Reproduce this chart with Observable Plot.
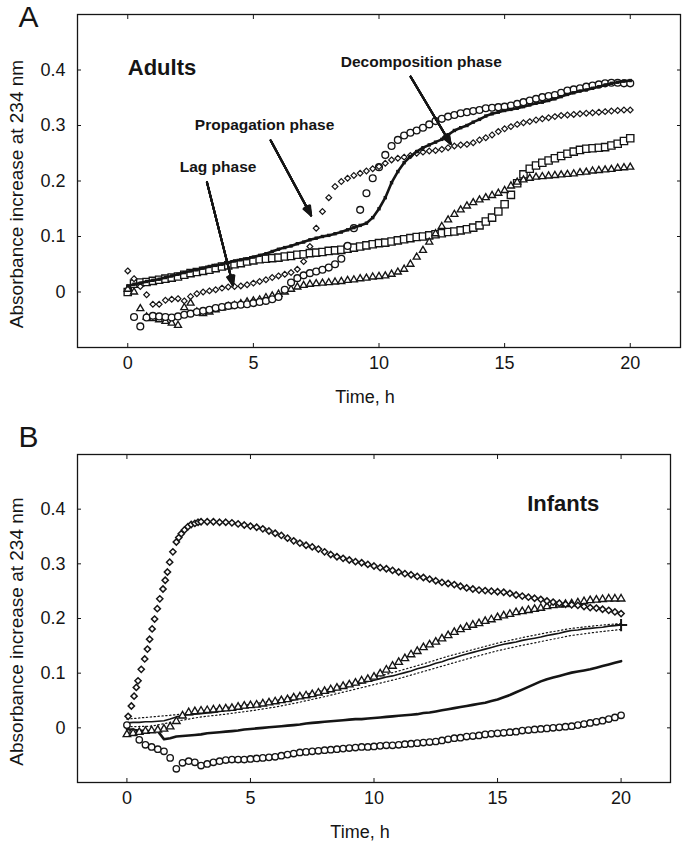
<!DOCTYPE html>
<html>
<head>
<meta charset="utf-8">
<script src="https://cdn.jsdelivr.net/npm/d3@7"></script>
<script src="https://cdn.jsdelivr.net/npm/@observablehq/plot@0.6"></script>
<style>
html, body { margin: 0; padding: 0; background: #fff; }
#chart svg { display: block; }
</style>
</head>
<body>
<div id="chart"></div>
<script>
// ---------- shared axes / labels ----------
const xTicks = [0, 5, 10, 15, 20];
const yTicks = [0, 0.1, 0.2, 0.3, 0.4];
const xLabel = "Time, h";
const yLabel = "Absorbance increase at 234 nm";
const panelLetters = ["A", "B"];
const groupLabels = ["Adults", "Infants"];
const groupX = [0, 16.2];
const groupY = [0.404, 0.41];

// sampling times (h)
const T = [0,0.25,0.5,0.75,1,1.25,1.5,1.75,2,2.25,2.5,2.75,3,3.25,3.5,3.75,4,4.25,4.5,4.75,
  5,5.25,5.5,5.75,6,6.25,6.5,6.75,7,7.25,7.5,7.75,8,8.25,8.5,8.75,9,9.25,9.5,9.75,
  10,10.25,10.5,10.75,11,11.25,11.5,11.75,12,12.25,12.5,12.75,13,13.25,13.5,13.75,14,14.25,14.5,14.75,
  15,15.25,15.5,15.75,16,16.25,16.5,16.75,17,17.25,17.5,17.75,18,18.25,18.5,18.75,19,19.25,19.5,19.75,20];
const T1 = [0,1,2,3,4,5,6,7,8,9,10,11,12,13,14,15,16,17,18,19,20];

// ---------- Panel A: adults ----------
const adultSquares = [0,0.015,0.017,0.018,0.02,0.022,0.024,0.026,0.028,0.031,
  0.034,0.036,0.038,0.04,0.043,0.046,0.048,0.05,0.052,0.055,
  0.057,0.059,0.06,0.061,0.062,0.064,0.065,0.067,0.068,0.07,
  0.071,0.072,0.074,0.075,0.076,0.078,0.08,0.082,0.084,0.086,
  0.088,0.089,0.091,0.093,0.095,0.097,0.099,0.1,0.102,0.104,
  0.106,0.108,0.109,0.111,0.113,0.116,0.12,0.127,0.134,0.145,
  0.158,0.175,0.196,0.212,0.222,0.228,0.233,0.237,0.241,0.245,
  0.249,0.253,0.256,0.258,0.259,0.26,0.261,0.264,0.267,0.272,
  0.277];
const adultFilled = [0.011,0.014,0.016,0.019,0.021,0.023,0.026,0.029,0.032,0.035,
  0.038,0.04,0.043,0.046,0.048,0.05,0.053,0.056,0.058,0.06,
  0.063,0.066,0.069,0.073,0.077,0.08,0.083,0.087,0.09,0.094,
  0.097,0.1,0.102,0.105,0.108,0.112,0.116,0.12,0.124,0.134,
  0.15,0.17,0.197,0.217,0.233,0.244,0.253,0.26,0.265,0.27,
  0.275,0.283,0.291,0.296,0.3,0.306,0.311,0.317,0.321,0.324,
  0.327,0.329,0.331,0.334,0.337,0.34,0.342,0.345,0.348,0.352,
  0.356,0.359,0.362,0.364,0.367,0.37,0.373,0.376,0.378,0.38,
  0.381];
const adultDiamonds = [0.038,0.024,0.01,-0.005,-0.022,-0.022,-0.015,-0.013,-0.012,-0.016,
  -0.008,-0.003,0,0.002,0.004,0.007,0.009,0.01,0.011,0.013,
  0.016,0.019,0.022,0.026,0.029,0.032,0.035,0.041,0.055,0.082,
  0.115,0.145,0.17,0.19,0.199,0.205,0.21,0.214,0.218,0.222,
  0.226,0.232,0.238,0.241,0.243,0.246,0.25,0.252,0.254,0.255,
  0.257,0.26,0.263,0.265,0.266,0.269,0.274,0.278,0.283,0.289,
  0.294,0.298,0.302,0.305,0.307,0.31,0.312,0.314,0.316,0.318,
  0.319,0.32,0.321,0.322,0.323,0.324,0.325,0.326,0.327,0.328,
  0.328];
const adultCircles = [null,-0.045,-0.062,-0.046,-0.043,-0.044,-0.045,-0.046,-0.044,-0.041,
  -0.039,-0.036,-0.034,-0.032,-0.029,-0.027,-0.025,-0.024,-0.023,-0.022,
  -0.02,-0.018,-0.016,-0.013,-0.009,0.004,0.017,0.025,0.03,0.034,
  0.037,0.04,0.044,0.05,0.06,0.083,0.115,0.148,0.178,0.205,
  0.225,0.247,0.263,0.274,0.282,0.287,0.291,0.296,0.302,0.308,
  0.312,0.316,0.319,0.322,0.324,0.326,0.328,0.331,0.332,0.333,
  0.334,0.336,0.339,0.342,0.345,0.348,0.351,0.353,0.355,0.359,
  0.363,0.365,0.367,0.37,0.372,0.374,0.376,0.377,0.377,0.376,
  0.376];
const adultTriangles = [0.005,0,-0.03,-0.045,-0.048,-0.05,-0.053,-0.056,-0.06,-0.028,
  -0.02,-0.036,-0.039,-0.036,-0.032,-0.029,-0.026,-0.024,-0.021,-0.018,
  -0.016,-0.014,-0.01,-0.007,-0.004,0,0.005,0.009,0.012,0.014,
  0.015,0.016,0.017,0.018,0.019,0.021,0.022,0.024,0.025,0.027,
  0.028,0.029,0.032,0.036,0.041,0.05,0.063,0.075,0.09,0.105,
  0.118,0.13,0.14,0.148,0.155,0.161,0.166,0.17,0.174,0.178,
  0.183,0.191,0.198,0.202,0.205,0.207,0.208,0.209,0.21,0.211,
  0.212,0.213,0.215,0.216,0.218,0.219,0.22,0.221,0.223,0.224,
  0.225];

// annotations (data units)
const phaseLabels = ["Lag phase", "Propagation phase", "Decomposition phase"];
const phaseLabelX = [2.07, 2.67, 8.48];
const phaseLabelY = [0.225, 0.300, 0.415];
const arrowFromX = [3.15, 5.69, 11.26];
const arrowFromY = [0.198, 0.273, 0.388];
const arrowToX = [4.19, 7.30, 12.85];
const arrowToY = [0.012, 0.138, 0.267];

// ---------- Panel B: infants ----------
const infantDiamondTimes = [0.05,0.18,0.29,0.38,0.45,0.58,0.72,0.83,0.92,1.02,1.12,1.23,1.33,1.46,
  1.55,1.64,1.73,1.86,2.0,2.1,2.2,2.33,2.47,2.6,2.75,2.88,3.0].concat(T.slice(13));
const infantDiamonds = [0.021,0.04,0.058,0.074,0.086,0.107,0.126,0.144,0.162,0.181,0.199,0.218,0.236,0.254,
  0.27,0.285,0.303,0.322,0.34,0.348,0.355,0.362,0.368,0.372,0.374,0.376,0.377,
  0.377,0.377,0.376,
  0.376,0.375,0.373,0.371,0.369,0.367,0.364,0.36,0.356,0.352,0.347,0.342,0.338,0.334,0.331,0.327,
  0.322,0.317,0.313,0.31,0.307,0.304,0.302,0.299,0.296,0.293,0.291,0.288,0.285,0.282,0.28,0.277,
  0.275,0.272,0.269,0.266,0.264,0.262,0.259,0.256,0.254,0.252,0.251,0.25,0.249,0.248,0.246,0.243,
  0.241,0.239,0.237,0.235,0.232,0.23,0.228,0.226,0.225,0.224,0.222,0.22,0.219,0.217,0.215,0.212,
  0.209];
const infantTriangles = [-0.012,-0.01,-0.008,-0.006,-0.005,-0.004,-0.002,0.002,0.012,0.022,
  0.028,0.03,0.031,0.032,0.033,0.034,0.035,0.036,0.038,0.04,
  0.041,0.042,0.044,0.046,0.048,0.05,0.052,0.055,0.057,0.059,
  0.061,0.064,0.067,0.07,0.073,0.076,0.079,0.082,0.086,0.089,
  0.093,0.099,0.106,0.113,0.12,0.127,0.134,0.14,0.147,0.152,
  0.157,0.163,0.169,0.175,0.18,0.184,0.188,0.191,0.195,0.198,
  0.202,0.205,0.208,0.211,0.213,0.215,0.217,0.219,0.222,0.224,
  0.225,0.226,0.227,0.229,0.231,0.233,0.234,0.235,0.236,0.236,
  0.236];
const infantPlus = [0.009,0.01,0.01,0.011,0.011,0.012,0.013,0.016,0.02,0.023,
  0.024,0.025,0.026,0.027,0.028,0.03,0.032,0.033,0.035,0.037,
  0.038,0.04,0.042,0.044,0.045,0.047,0.049,0.051,0.054,0.056,
  0.058,0.061,0.064,0.067,0.07,0.073,0.076,0.079,0.082,0.085,
  0.087,0.09,0.093,0.095,0.098,0.101,0.104,0.108,0.111,0.114,
  0.118,0.121,0.125,0.128,0.132,0.135,0.138,0.141,0.144,0.147,
  0.15,0.153,0.155,0.157,0.16,0.162,0.164,0.166,0.169,0.171,
  0.173,0.176,0.178,0.179,0.181,0.182,0.183,0.184,0.186,0.187,
  0.188];
const infantPlusHi = [0.016,0.02,0.024,0.031,0.037,0.043,0.05,0.059,0.069,0.081,0.092,
  0.104,0.117,0.131,0.143,0.155,0.165,0.174,0.182,0.187,0.191];
const infantPlusLo = [0.002,0.003,0.012,0.02,0.025,0.031,0.038,0.047,0.057,0.068,0.079,
  0.09,0.103,0.116,0.129,0.141,0.151,0.16,0.169,0.175,0.18];
const infantFilled = [-0.002,-0.004,-0.005,-0.006,-0.006,-0.006,-0.021,-0.019,-0.016,-0.015,
  -0.014,-0.013,-0.012,-0.01,-0.009,-0.008,-0.007,-0.006,-0.005,-0.003,
  -0.002,-0.001,0,0.001,0.002,0.003,0.004,0.005,0.006,0.008,
  0.009,0.01,0.011,0.012,0.013,0.014,0.015,0.016,0.016,0.017,
  0.018,0.019,0.02,0.021,0.022,0.023,0.024,0.025,0.027,0.028,
  0.03,0.032,0.034,0.036,0.038,0.04,0.042,0.044,0.046,0.049,
  0.052,0.056,0.06,0.065,0.07,0.075,0.08,0.085,0.089,0.092,
  0.095,0.098,0.101,0.103,0.105,0.107,0.11,0.113,0.116,0.119,
  0.122];
const infantCircles = [0.005,-0.008,-0.022,-0.031,-0.035,-0.039,-0.043,-0.055,-0.075,-0.064,
  -0.061,-0.063,-0.069,-0.066,-0.063,-0.061,-0.059,-0.058,-0.058,-0.058,
  -0.057,-0.056,-0.055,-0.054,-0.053,-0.051,-0.049,-0.047,-0.045,-0.044,
  -0.043,-0.042,-0.041,-0.04,-0.039,-0.038,-0.037,-0.036,-0.035,-0.035,
  -0.034,-0.033,-0.032,-0.032,-0.031,-0.03,-0.029,-0.028,-0.027,-0.026,
  -0.025,-0.023,-0.021,-0.019,-0.018,-0.016,-0.015,-0.014,-0.012,-0.011,
  -0.01,-0.009,-0.008,-0.007,-0.005,-0.004,-0.003,-0.002,-0.001,0,
  0.001,0.002,0.003,0.005,0.007,0.009,0.011,0.013,0.016,0.019,
  0.023];

// ---------- helpers ----------
const ink = "#151515";
const font = "'Liberation Sans', Arial, Helvetica, sans-serif";
const rows = (times, vals) => times.map((t, i) => ({t, v: vals[i]})).filter(d => d.v != null);
const markerDot = (data, symbol, r, extra = {}) =>
  Plot.dot(data, {x: "t", y: "v", symbol, r, stroke: ink, strokeWidth: 1.35, fill: "white", ...extra});

function frameAxes() {
  const fmt = d => String(d);
  const none = () => "";
  return [
    Plot.frame({stroke: ink, strokeWidth: 1.3}),
    Plot.axisX(xTicks, {anchor: "bottom", tickSize: 0, tickPadding: 9, tickFormat: fmt, label: null, fontSize: 18}),
    Plot.axisX(xTicks, {anchor: "bottom", tickSize: 4, dy: -4, tickFormat: none, label: null}),
    Plot.axisX(xTicks, {anchor: "top", tickSize: 4, dy: 4, tickFormat: none, label: null}),
    Plot.axisY(yTicks, {anchor: "left", tickSize: 0, tickPadding: 12, tickFormat: fmt, label: null, fontSize: 18}),
    Plot.axisY(yTicks, {anchor: "left", tickSize: 4, dx: 4, tickFormat: none, label: null}),
    Plot.axisY(yTicks, {anchor: "right", tickSize: 4, dx: -4, tickFormat: none, label: null}),
    Plot.text([xLabel], {text: d => d, frameAnchor: "bottom", dx: -14, dy: 50, lineAnchor: "middle", fontSize: 18, fill: ink}),
    Plot.text([yLabel], {text: d => d, frameAnchor: "left", dx: -61, dy: 13, rotate: -90, textAnchor: "middle", lineAnchor: "middle", fontSize: 19, fill: ink})
  ];
}
const styleObj = {fontFamily: font, fontSize: "18px", background: "white", color: ink, overflow: "visible"};

// ---------- Panel A ----------
const arrowRows = phaseLabels.map((s, i) => ({x1: arrowFromX[i], y1: arrowFromY[i], x2: arrowToX[i], y2: arrowToY[i]}));
const noteRows = phaseLabels.map((s, i) => ({text: s, x: phaseLabelX[i], y: phaseLabelY[i]}));
const headAngles = [6, 14, 22, 30, 38, 44];

const plotA = Plot.plot({
  width: 685, height: 420,
  marginTop: 14, marginRight: 5, marginBottom: 73, marginLeft: 77,
  x: {domain: [-2, 22]},
  y: {domain: [-0.1, 0.5]},
  style: styleObj,
  marks: [
    ...frameAxes(),
    Plot.text([panelLetters[0]], {text: d => d, frameAnchor: "top-left", dx: -59, dy: 2.5, textAnchor: "start", lineAnchor: "middle", fontSize: 30, fill: ink}),
    markerDot(rows(T, adultSquares), "square", 4.1),
    markerDot(rows(T, adultTriangles), "triangle", 2.6),
    markerDot(rows(T, adultCircles), "circle", 3.4),
    markerDot(rows(T, adultDiamonds), "diamond2", 2.6, {strokeWidth: 1.2}),
    Plot.line(rows(T, adultFilled), {x: "t", y: "v", stroke: ink, strokeWidth: 2.6}),
    Plot.dot(rows(T, adultFilled), {x: "t", y: "v", symbol: "square", r: 1.9, fill: ink}),
    Plot.text([groupLabels[0]], {text: d => d, x: [groupX[0]], y: [groupY[0]], textAnchor: "start", lineAnchor: "middle", fontWeight: "bold", fontSize: 22, fill: ink}),
    Plot.text(noteRows, {x: "x", y: "y", text: "text", textAnchor: "start", lineAnchor: "middle", fontWeight: "bold", fontSize: 15.5, fill: ink}),
    ...headAngles.map(a => Plot.arrow(arrowRows, {x1: "x1", y1: "y1", x2: "x2", y2: "y2", stroke: ink, strokeWidth: 2, headLength: 7.5, headAngle: a}))
  ]
});

// ---------- Panel B ----------
const plusRows = rows(T, infantPlus);
const plotB = Plot.plot({
  width: 685, height: 425,
  marginTop: 34, marginRight: 15, marginBottom: 63, marginLeft: 77,
  x: {domain: [-2, 22]},
  y: {domain: [-0.1, 0.5]},
  style: styleObj,
  marks: [
    ...frameAxes(),
    Plot.text([panelLetters[1]], {text: d => d, frameAnchor: "top-left", dx: -59, dy: -17.5, textAnchor: "start", lineAnchor: "middle", fontSize: 30, fill: ink}),
    Plot.line(rows(T1, infantPlusHi), {x: "t", y: "v", stroke: ink, strokeWidth: 1.2, strokeDasharray: "1.3,2.6"}),
    Plot.line(rows(T1, infantPlusLo), {x: "t", y: "v", stroke: ink, strokeWidth: 1.2, strokeDasharray: "1.3,2.6"}),
    Plot.line(plusRows, {x: "t", y: "v", stroke: ink, strokeWidth: 1.6}),
    Plot.dot(plusRows.slice(-1), {x: "t", y: "v", symbol: "plus", r: 4, stroke: ink, strokeWidth: 2}),
    Plot.line(rows(T, infantFilled), {x: "t", y: "v", stroke: ink, strokeWidth: 2.6}),
    markerDot(rows(T, infantCircles), "circle", 3.2),
    markerDot(rows(T, infantTriangles), "triangle", 2.8),
    markerDot(rows(infantDiamondTimes, infantDiamonds), "diamond2", 2.8, {strokeWidth: 1.5}),
    Plot.text([groupLabels[1]], {text: d => d, x: [groupX[1]], y: [groupY[1]], textAnchor: "start", lineAnchor: "middle", fontWeight: "bold", fontSize: 22, fill: ink})
  ]
});

const root = document.getElementById("chart");
root.append(plotA, plotB);
</script>
</body>
</html>
